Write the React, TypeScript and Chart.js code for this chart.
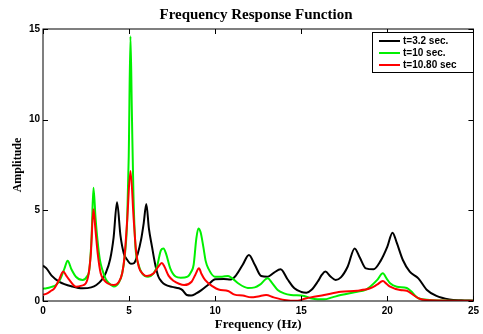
import React, { useEffect, useRef } from "react";
import { Chart, registerables } from "chart.js";

Chart.register(...registerables);

const chartTitle = "Frequency Response Function";
const xTitle = "Frequency (Hz)";
const yTitle = "Amplitude";
const xTicks = [0, 5, 10, 15, 20, 25];
const yTicks = [0, 5, 10, 15];
const seriesLabels = ["t=3.2 sec.", "t=10 sec.", "t=10.80 sec"];
const seriesColors = ["#000000", "#00f000", "#ff0000"];

const freqA = [0, 0.2, 0.5, 0.95, 1.7, 2.3, 2.8, 3.1, 3.4, 3.65, 3.9, 4.1, 4.3, 4.5, 4.7, 4.9, 5.1, 5.3, 5.5, 5.7, 5.85, 6.0, 6.15, 6.33, 6.5, 6.7, 6.9, 7.1, 7.5, 7.9, 8.1, 8.35, 8.6, 8.9, 9.2, 9.6, 10.0, 10.5, 10.9, 11.2, 11.6, 11.96, 12.3, 12.67, 13.05, 13.4, 13.8, 14.2, 14.6, 15.0, 15.3, 15.6, 15.95, 16.2, 16.4, 16.7, 17.0, 17.3, 17.7, 18.1, 18.4, 18.75, 19.2, 19.6, 20.0, 20.3, 20.55, 20.9, 21.3, 21.8, 22.3, 22.85, 23.6, 24.3, 25];
const ampA = [1.95, 1.8, 1.4, 1.06, 0.8, 0.7, 0.75, 0.88, 1.15, 1.55, 2.3, 3.5, 5.44, 3.6, 2.6, 2.26, 2.05, 2.1, 2.6, 3.4, 4.3, 5.35, 4.0, 3.0, 2.1, 1.35, 1.06, 0.9, 0.78, 0.7, 0.6, 0.33, 0.3, 0.42, 0.6, 0.9, 1.2, 1.22, 1.18, 1.4, 2.0, 2.54, 2.0, 1.38, 1.34, 1.55, 1.75, 1.2, 0.7, 0.5, 0.46, 0.62, 1.06, 1.45, 1.62, 1.35, 1.16, 1.3, 1.9, 2.9, 2.4, 1.8, 1.75, 2.2, 3.0, 3.77, 3.2, 2.26, 1.62, 1.25, 0.61, 0.28, 0.09, 0.04, 0.02];

const freqB = [0, 0.2, 0.5, 0.76, 1.0, 1.25, 1.43, 1.65, 1.91, 2.3, 2.55, 2.7, 2.82, 2.93, 3.05, 3.16, 3.3, 3.45, 3.65, 3.83, 4.12, 4.4, 4.6, 4.75, 4.89, 4.98, 5.08, 5.16, 5.25, 5.37, 5.55, 5.75, 6.1, 6.4, 6.62, 6.85, 7.0, 7.15, 7.39, 7.7, 8.0, 8.4, 8.6, 8.75, 8.9, 9.02, 9.15, 9.31, 9.45, 9.6, 9.98, 10.4, 10.75, 11.0, 11.33, 11.9, 12.3, 12.6, 13.05, 13.3, 13.63, 14.0, 14.4, 15.17, 15.55, 15.94, 16.33, 16.8, 17.29, 18.25, 18.7, 19.0, 19.4, 19.74, 19.95, 20.16, 20.55, 21.13, 21.41, 21.6, 21.8, 22.47, 23.2, 25];
const ampB = [0.68, 0.7, 0.78, 0.88, 1.2, 1.8, 2.22, 1.75, 1.34, 1.16, 1.35, 1.8, 3.5, 6.25, 4.6, 3.4, 2.3, 1.71, 1.2, 0.98, 0.8, 1.0, 1.53, 2.5, 4.47, 8.0, 14.6, 10.5, 6.0, 3.0, 2.0, 1.53, 1.34, 1.5, 1.9, 2.8, 2.9, 2.6, 1.8, 1.35, 1.28, 1.34, 1.6, 2.0, 3.4, 4.0, 3.8, 3.0, 2.2, 1.8, 1.34, 1.34, 1.38, 1.25, 0.98, 0.72, 0.75, 0.9, 1.25, 1.0, 0.61, 0.42, 0.33, 0.28, 0.15, 0.09, 0.09, 0.2, 0.33, 0.51, 0.6, 0.79, 1.15, 1.53, 1.25, 0.98, 0.79, 0.72, 0.51, 0.3, 0.15, 0.06, 0.03, 0.01];

const freqC = [0, 0.18, 0.45, 0.66, 0.9, 1.18, 1.35, 1.53, 1.91, 2.25, 2.49, 2.65, 2.78, 2.93, 3.05, 3.18, 3.35, 3.55, 3.74, 4.12, 4.4, 4.6, 4.75, 4.89, 5.08, 5.27, 5.4, 5.56, 5.8, 6.04, 6.43, 6.7, 6.9, 7.05, 7.29, 7.6, 7.9, 8.2, 8.63, 8.85, 9.06, 9.2, 9.41, 9.88, 10.2, 10.75, 11.13, 11.6, 12.09, 12.5, 12.96, 13.4, 14.02, 14.78, 15.2, 15.55, 16.33, 17.29, 18.25, 19.0, 19.4, 19.74, 19.95, 20.16, 20.74, 21.13, 21.51, 21.9, 22.5, 25];
const ampC = [0.35, 0.39, 0.55, 0.7, 1.1, 1.62, 1.4, 1.16, 0.79, 0.85, 0.98, 1.5, 2.63, 5.06, 3.9, 2.6, 1.53, 1.15, 0.98, 0.88, 1.05, 1.53, 2.6, 4.47, 7.17, 4.47, 2.8, 1.89, 1.5, 1.38, 1.53, 1.9, 2.1, 1.9, 1.4, 1.1, 0.95, 0.88, 1.06, 1.45, 1.8, 1.5, 1.16, 0.79, 0.63, 0.55, 0.35, 0.3, 0.2, 0.25, 0.33, 0.2, 0.06, 0.01, 0.12, 0.2, 0.33, 0.51, 0.57, 0.7, 0.9, 1.1, 0.95, 0.79, 0.61, 0.57, 0.33, 0.11, 0.04, 0.01];

const pts = (xs: number[], ys: number[]) => xs.map((x, i) => ({ x, y: ys[i] }));

const framePlugin = {
  id: "frame",
  afterDraw(chart: any) {
    const { ctx, chartArea: a, scales } = chart;
    ctx.save();
    ctx.strokeStyle = "#000";
    ctx.lineWidth = 1;
    ctx.strokeRect(a.left, a.top, a.right - a.left, a.bottom - a.top);
    const tl = 5;
    ctx.beginPath();
    xTicks.forEach((t) => {
      const x = Math.round(scales.x.getPixelForValue(t)) + 0.5;
      ctx.moveTo(x, a.bottom);
      ctx.lineTo(x, a.bottom - tl);
      ctx.moveTo(x, a.top);
      ctx.lineTo(x, a.top + tl);
    });
    yTicks.forEach((t) => {
      const y = Math.round(scales.y.getPixelForValue(t)) + 0.5;
      ctx.moveTo(a.left, y);
      ctx.lineTo(a.left + tl, y);
      ctx.moveTo(a.right, y);
      ctx.lineTo(a.right - tl, y);
    });
    ctx.stroke();

    // titles
    ctx.fillStyle = "#000";
    ctx.textAlign = "center";
    ctx.textBaseline = "middle";
    ctx.font = "bold 15px 'Liberation Serif'";
    ctx.fillText(chartTitle, 256, 15);
    ctx.font = "bold 13px 'Liberation Serif'";
    ctx.fillText(xTitle, (a.left + a.right) / 2, 325);
    ctx.font = "bold 12px 'Liberation Serif'";
    ctx.save();
    ctx.translate(18, (a.top + a.bottom) / 2);
    ctx.rotate(-Math.PI / 2);
    ctx.fillText(yTitle, 0, 0);
    ctx.restore();

    // legend
    const lx = 372, ly = 32.5, lw = 101, lh = 40;
    ctx.fillStyle = "#fff";
    ctx.fillRect(lx, ly, lw, lh);
    ctx.strokeStyle = "#000";
    ctx.lineWidth = 1;
    ctx.strokeRect(lx + 0.5, ly, lw, lh);
    ctx.font = "bold 10px 'Liberation Sans'";
    ctx.textAlign = "left";
    ctx.textBaseline = "middle";
    const rows = [41, 53, 65];
    seriesLabels.forEach((lab, i) => {
      ctx.strokeStyle = seriesColors[i];
      ctx.lineWidth = 2;
      ctx.beginPath();
      ctx.moveTo(379, rows[i]);
      ctx.lineTo(400, rows[i]);
      ctx.stroke();
      ctx.fillStyle = "#000";
      ctx.fillText(lab, 403, rows[i] + 0.5);
    });
    ctx.restore();
  },
};

export default function App() {
  const ref = useRef<HTMLCanvasElement>(null);
  useEffect(() => {
    if (!ref.current) return;
    const tickFont = { family: "'Liberation Sans'", size: 10, weight: "bold" as const };
    const chart = new Chart(ref.current, {
      type: "line",
      data: {
        datasets: [
          { label: seriesLabels[0], data: pts(freqA, ampA), borderColor: seriesColors[0], order: 3 },
          { label: seriesLabels[1], data: pts(freqB, ampB), borderColor: seriesColors[1], order: 2 },
          { label: seriesLabels[2], data: pts(freqC, ampC), borderColor: seriesColors[2], order: 1 },
        ].map((d) => ({ ...d, borderWidth: 2, pointRadius: 0, fill: false, cubicInterpolationMode: "monotone" as const })),
      },
      options: {
        animation: false,
        responsive: false,
        layout: { padding: { top: 29, right: 6, left: 0, bottom: 0 } },
        plugins: { legend: { display: false }, title: { display: false }, tooltip: { enabled: false } },
        scales: {
          x: {
            type: "linear",
            min: 0,
            max: 25,
            afterBuildTicks: (s: any) => { s.ticks = xTicks.map((v) => ({ value: v })); },
            grid: { display: false, drawTicks: false, tickLength: 0 },
            border: { display: false },
            ticks: { font: tickFont, color: "#000", padding: 4, maxRotation: 0 },
            afterFit: (s: any) => { s.height = 33; },
          },
          y: {
            type: "linear",
            min: 0,
            max: 15,
            afterBuildTicks: (s: any) => { s.ticks = yTicks.map((v) => ({ value: v })); },
            grid: { display: false, drawTicks: false, tickLength: 0 },
            border: { display: false },
            ticks: { font: tickFont, color: "#000", padding: 3 },
            afterFit: (s: any) => { s.width = 43; },
          },
        },
      },
      plugins: [framePlugin],
    });
    return () => chart.destroy();
  }, []);
  return (
    <div style={{ position: "fixed", left: 0, top: 0, width: 483, height: 334, background: "#fff" }}>
      <canvas ref={ref} width={483} height={334} />
    </div>
  );
}
